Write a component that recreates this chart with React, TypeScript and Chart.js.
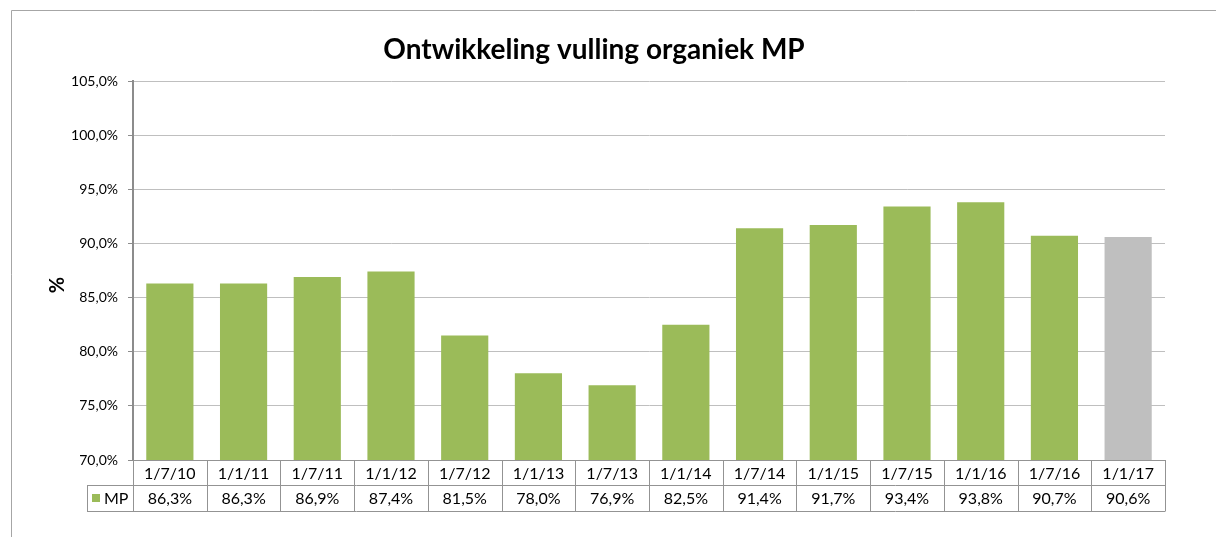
import React, { useEffect, useRef } from "react";
import { Chart, registerables } from "chart.js";

Chart.register(...registerables);

const categories = ["1/7/10", "1/1/11", "1/7/11", "1/1/12", "1/7/12", "1/1/13", "1/7/13", "1/1/14", "1/7/14", "1/1/15", "1/7/15", "1/1/16", "1/7/16", "1/1/17"];
const mpValues = [86.3, 86.3, 86.9, 87.4, 81.5, 78.0, 76.9, 82.5, 91.4, 91.7, 93.4, 93.8, 90.7, 90.6];
const barColors = ["#9bbb59", "#9bbb59", "#9bbb59", "#9bbb59", "#9bbb59", "#9bbb59", "#9bbb59", "#9bbb59", "#9bbb59", "#9bbb59", "#9bbb59", "#9bbb59", "#9bbb59", "#bfbfbf"];
const seriesName = "MP";
const titleText = "Ontwikkeling vulling organiek MP";
const yAxisTitle = "%";

const FONT = "Lato, 'Open Sans', sans-serif";

const fmt = (v: number) => v.toFixed(1).replace(".", ",") + "%";

const decorPlugin = {
  id: "decor",
  beforeDraw(chart: any) {
    const ctx = chart.ctx;
    ctx.save();
    ctx.fillStyle = "#ffffff";
    ctx.fillRect(0, 0, chart.width, chart.height);
    ctx.strokeStyle = "#a6a6a6";
    ctx.lineWidth = 1;
    ctx.beginPath();
    ctx.moveTo(11.5, chart.height + 2);
    ctx.lineTo(11.5, 10.5);
    ctx.lineTo(chart.width + 2, 10.5);
    ctx.stroke();
    ctx.restore();
  },
  afterDraw(chart: any) {
    const ctx = chart.ctx;
    const area = chart.chartArea;
    const x = chart.scales.x;
    const n = categories.length;
    const left = area.left;
    const right = area.right;
    const step = (right - left) / n;
    const top = area.bottom;
    const row1 = top + 25;
    const row2 = top + 51;
    const legendLeft = 87;
    ctx.save();
    // title
    ctx.fillStyle = "#000000";
    ctx.font = "bold 28px " + FONT;
    ctx.textAlign = "center";
    ctx.textBaseline = "middle";
    ctx.fillText(titleText, 594, 50);
    // y axis title
    ctx.save();
    ctx.translate(58, 285);
    ctx.rotate(-Math.PI / 2);
    ctx.font = "bold 20px " + FONT;
    ctx.fillText(yAxisTitle, 0, 0);
    ctx.restore();
    // table lines
    ctx.strokeStyle = "#939393";
    ctx.lineWidth = 1;
    ctx.beginPath();
    ctx.moveTo(left, Math.round(top) + 0.5);
    ctx.lineTo(right, Math.round(top) + 0.5);
    ctx.moveTo(legendLeft, Math.round(row1) + 0.5);
    ctx.lineTo(right, Math.round(row1) + 0.5);
    ctx.moveTo(legendLeft, Math.round(row2) + 0.5);
    ctx.lineTo(right, Math.round(row2) + 0.5);
    for (let i = 0; i <= n; i++) {
      const cx = Math.round(left + i * step) + 0.5;
      ctx.moveTo(cx, Math.round(top));
      ctx.lineTo(cx, Math.round(row2) + 0.5);
    }
    ctx.moveTo(legendLeft + 0.5, Math.round(row1));
    ctx.lineTo(legendLeft + 0.5, Math.round(row2) + 0.5);
    ctx.stroke();
    // text
    ctx.font = "16px " + FONT;
    ctx.fillStyle = "#000000";
    ctx.textAlign = "center";
    for (let i = 0; i < n; i++) {
      const cx = x.getPixelForValue(i);
      ctx.fillText(categories[i], cx, (top + row1) / 2 + 1);
      ctx.fillText(fmt(mpValues[i]), cx, (row1 + row2) / 2 + 1);
    }
    // legend key
    ctx.fillStyle = "#9bbb59";
    ctx.fillRect(92, Math.round((row1 + row2) / 2) - 4, 8, 8);
    ctx.fillStyle = "#000000";
    ctx.textAlign = "left";
    ctx.fillText(seriesName, 104, (row1 + row2) / 2 + 1);
    ctx.restore();
  },
};

export default function App() {
  const ref = useRef<HTMLCanvasElement>(null);
  useEffect(() => {
    if (!ref.current) return;
    const chart = new Chart(ref.current, {
      type: "bar",
      data: {
        labels: categories,
        datasets: [
          {
            label: seriesName,
            data: mpValues,
            backgroundColor: barColors,
            borderWidth: 0,
            barPercentage: 0.64,
            categoryPercentage: 1,
          },
        ],
      },
      options: {
        animation: false,
        responsive: false,
        layout: { padding: { left: 0, top: 81, right: 51, bottom: 77 } },
        plugins: { legend: { display: false }, title: { display: false }, tooltip: { enabled: false } },
        scales: {
          x: { display: false },
          y: {
            min: 70,
            max: 105,
            ticks: {
              stepSize: 5,
              color: "#000000",
              font: { family: FONT, size: 14 },
              padding: 10,
              callback: (v: any) => fmt(Number(v)),
            },
            grid: { color: "#bfbfbf", tickLength: 5, tickColor: "#8c8c8c" },
            border: { color: "#8c8c8c", width: 2 },
            afterFit: (s: any) => {
              s.width = 133;
            },
          },
        },
      },
      plugins: [decorPlugin],
    });
    return () => chart.destroy();
  }, []);
  return (
    <div style={{ position: "fixed", left: 0, top: 0, width: 1216, height: 537 }}>
      <canvas ref={ref} width={1216} height={537} style={{ width: 1216, height: 537 }} />
    </div>
  );
}
